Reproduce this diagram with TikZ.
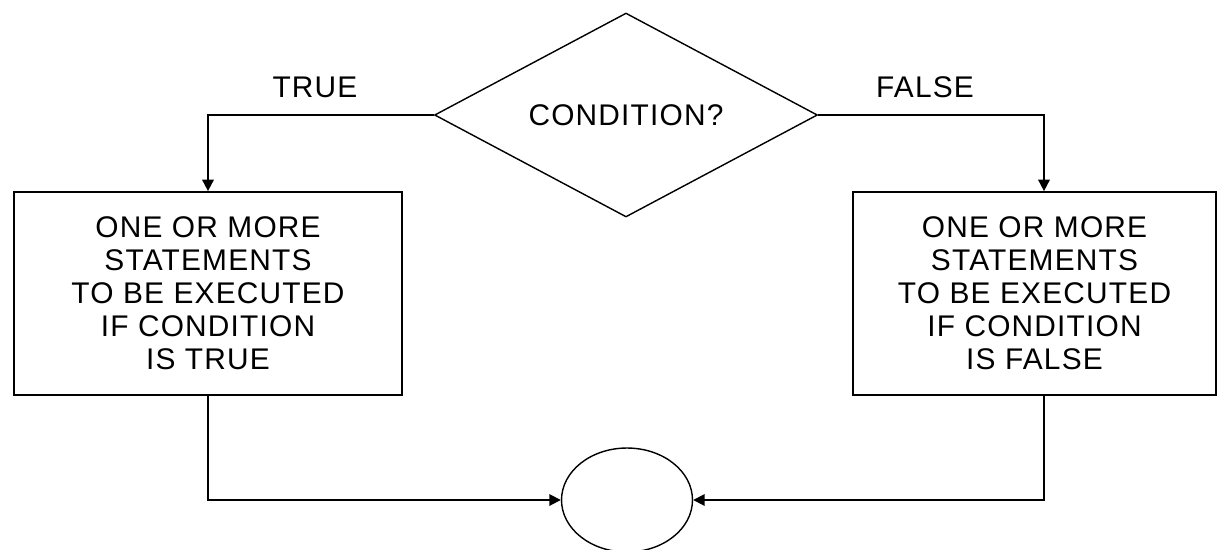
\documentclass[tikz,border=0pt]{standalone}
\usepackage{fontspec}
\setmainfont{Liberation Sans}[LetterSpace=4]
\usetikzlibrary{shapes.geometric,arrows.meta}

\begin{document}
\begin{tikzpicture}[x=0.02cm,y=-0.02cm,
        every node/.style={font=\fontsize{17}{18.8}\selectfont},
        stmt/.style={draw,line width=1pt,align=center,inner sep=0pt,minimum height=4.06cm},
        arr/.style={line width=1pt,-{Triangle[length=6.5pt,width=6.5pt]}}]
        \useasboundingbox (0,0) rectangle (1225,549);
        \node[draw,diamond,shape aspect=2,line width=0.8pt,inner sep=0pt,
              minimum width=7.66cm,minimum height=4.08cm] (cond) at (626,115) {CONDITION?};
        \node[stmt,minimum width=7.76cm] (iftrue) at (208,293.5)
              {ONE OR MORE\\STATEMENTS\\TO BE EXECUTED\\IF CONDITION\\IS TRUE};
        \node[stmt,minimum width=7.26cm] (iffalse) at (1034.5,293.5)
              {ONE OR MORE\\STATEMENTS\\TO BE EXECUTED\\IF CONDITION\\IS FALSE};
        \node[draw,ellipse,line width=0.8pt,inner sep=0pt,
              minimum width=2.62cm,minimum height=2.08cm] (join) at (627,500) {};
        \node (t) at (315,87) {TRUE};
        \node (f) at (925,87) {FALSE};
        \coordinate (fin) at ([xshift=0.19cm]iffalse.north);
        \coordinate (fout) at ([xshift=0.19cm]iffalse.south);
        \draw[arr] (cond.west) -| (iftrue.north);
        \draw[arr] (cond.east) -| (fin);
        \draw[arr] (iftrue.south) |- (join.west);
        \draw[arr] (fout) |- (join.east);
\end{tikzpicture}
\end{document}
